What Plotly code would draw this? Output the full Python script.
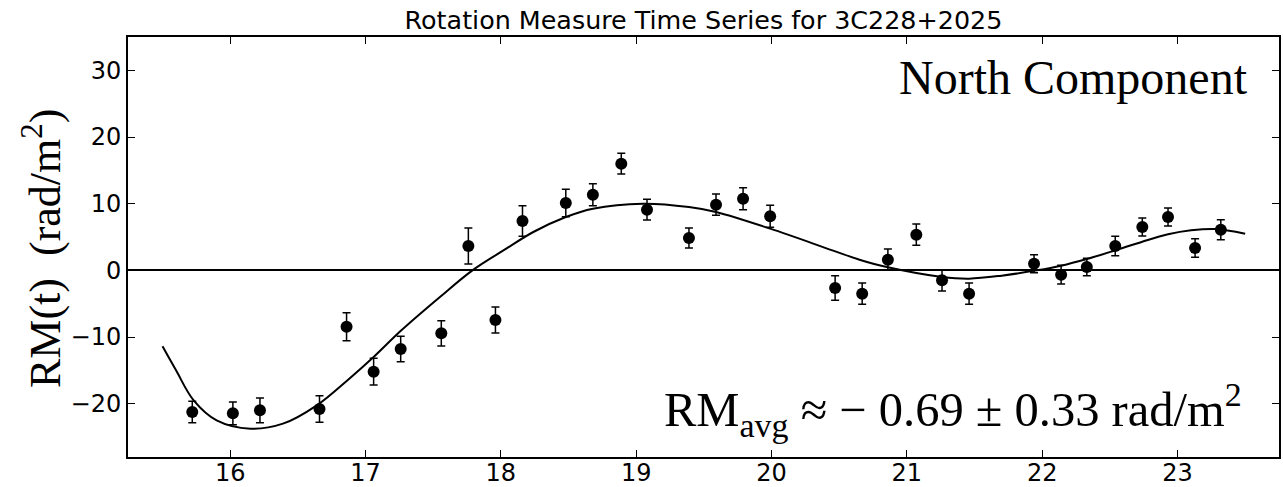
import plotly.graph_objects as go

# Observation epochs and measured rotation measures
t_obs = [15.72, 16.02, 16.22, 16.66, 16.86, 17.06, 17.26, 17.56, 17.76, 17.96,
         18.16, 18.48, 18.68, 18.89, 19.08, 19.39, 19.59, 19.79, 19.99, 20.47,
         20.67, 20.86, 21.07, 21.26, 21.46, 21.94, 22.14, 22.33, 22.54, 22.74,
         22.93, 23.13, 23.32]
rm_obs = [-21.25, -21.45, -21.0, -20.8, -8.45, -15.2, -11.8, -9.45, 3.65, -7.45,
          7.4, 10.1, 11.35, 16.0, 9.1, 4.85, 9.85, 10.75, 8.1, -2.65,
          -3.5, 1.6, 5.35, -1.5, -3.5, 1.0, -0.65, 0.5, 3.65, 6.5,
          8.0, 3.35, 6.1]
rm_err = [1.6, 1.7, 1.85, 2.0, 2.1, 2.0, 1.9, 1.9, 2.7, 1.95,
          2.3, 2.05, 1.65, 1.55, 1.55, 1.5, 1.6, 1.65, 1.65, 1.85,
          1.6, 1.6, 1.6, 1.6, 1.6, 1.35, 1.4, 1.3, 1.45, 1.35,
          1.35, 1.4, 1.5]

# Fitted model curve
t_fit = [15.50, 15.60, 15.73, 15.90, 16.15, 16.39, 16.64, 16.88, 17.06, 17.265,
         17.55, 17.79, 18.04, 18.24, 18.48, 18.68, 19.05, 19.39, 19.59, 19.99,
         20.45, 20.65, 20.86, 21.26, 21.46, 21.70, 21.96, 22.14, 22.33, 22.54,
         22.74, 22.93, 23.10, 23.28, 23.50]
rm_fit = [-11.4, -15.0, -19.5, -22.5, -23.75, -23.0, -20.25, -16.25, -13.0, -9.0,
          -4.0, 0.0, 3.25, 5.75, 8.0, 9.25, 10.0, 9.5, 8.75, 6.25,
          3.0, 1.6, 0.45, -1.0, -1.25, -0.8, 0.0, 0.7, 1.7, 3.0,
          4.3, 5.4, 6.0, 6.2, 5.5]

x_ticks = [16, 17, 18, 19, 20, 21, 22, 23]
y_ticks = [-20, -10, 0, 10, 20, 30]

L, R, T, B = 128, 1279, 37, 457
PW, PH = R - L, B - T

fig = go.Figure()
fig.add_trace(go.Scatter(
    x=t_fit, y=rm_fit, mode="lines",
    line=dict(color="black", width=2, shape="spline", smoothing=1.0),
    showlegend=False, hoverinfo="skip"))
fig.add_trace(go.Scatter(
    x=t_obs, y=rm_obs, mode="markers",
    marker=dict(color="black", size=12),
    error_y=dict(type="data", array=rm_err, visible=True,
                 color="black", thickness=1.5, width=4),
    showlegend=False))

fig.add_annotation(
    text="North Component", xref="paper", yref="paper",
    x=(1250 - L) / PW, y=(B - 77) / PH, xanchor="right", yanchor="middle",
    showarrow=False, font=dict(family="Liberation Serif", size=48, color="black"))
fig.add_annotation(
    text="RM<sub>avg</sub> ≈ − 0.69 ± 0.33 rad/m<sup>2</sup>", xref="paper", yref="paper",
    x=(1244 - L) / PW, y=(B - 410) / PH, xanchor="right", yanchor="middle",
    showarrow=False, font=dict(family="Liberation Serif", size=48.5, color="black"))
fig.add_annotation(
    text="RM(t)  (rad/m<sup>2</sup>)", xref="paper", yref="paper",
    x=(42 - L) / PW, y=(B - 249) / PH, xanchor="center", yanchor="middle",
    textangle=-90, showarrow=False,
    font=dict(family="Liberation Serif", size=44, color="black"))

fig.update_layout(
    width=1283, height=487,
    margin=dict(l=L, r=1283 - R, t=T, b=487 - B, autoexpand=False),
    paper_bgcolor="white", plot_bgcolor="white",
    title=dict(text="Rotation Measure Time Series for 3C228+2025",
               x=0.5, xref="paper", xanchor="center",
               y=1 - 20 / 487, yref="container", yanchor="middle",
               font=dict(family="DejaVu Sans", size=25.4, color="black")),
    font=dict(family="DejaVu Sans", color="black"),
)
fig.update_xaxes(
    range=[15.245, 23.75], tickvals=x_ticks, ticks="inside", ticklen=7,
    tickwidth=1, tickcolor="black", showline=True, linecolor="black",
    linewidth=2, mirror="ticks", showgrid=False, zeroline=False,
    automargin=False, ticklabelstandoff=-7,
    tickfont=dict(family="DejaVu Sans", size=24, color="black"))
fig.update_yaxes(
    range=[-28, 35], tickvals=y_ticks, ticks="inside", ticklen=7,
    tickwidth=1, tickcolor="black", showline=True, linecolor="black",
    linewidth=2, mirror="ticks", showgrid=False, automargin=False,
    zeroline=True, zerolinecolor="black", zerolinewidth=1.5,
    tickfont=dict(family="DejaVu Sans", size=24, color="black"))

fig.write_html(
    "out.html",
    config={"displayModeBar": False},
    post_script="document.documentElement.style.margin='0';"
                "document.body.style.margin='0';"
                "document.body.style.overflow='hidden';")
